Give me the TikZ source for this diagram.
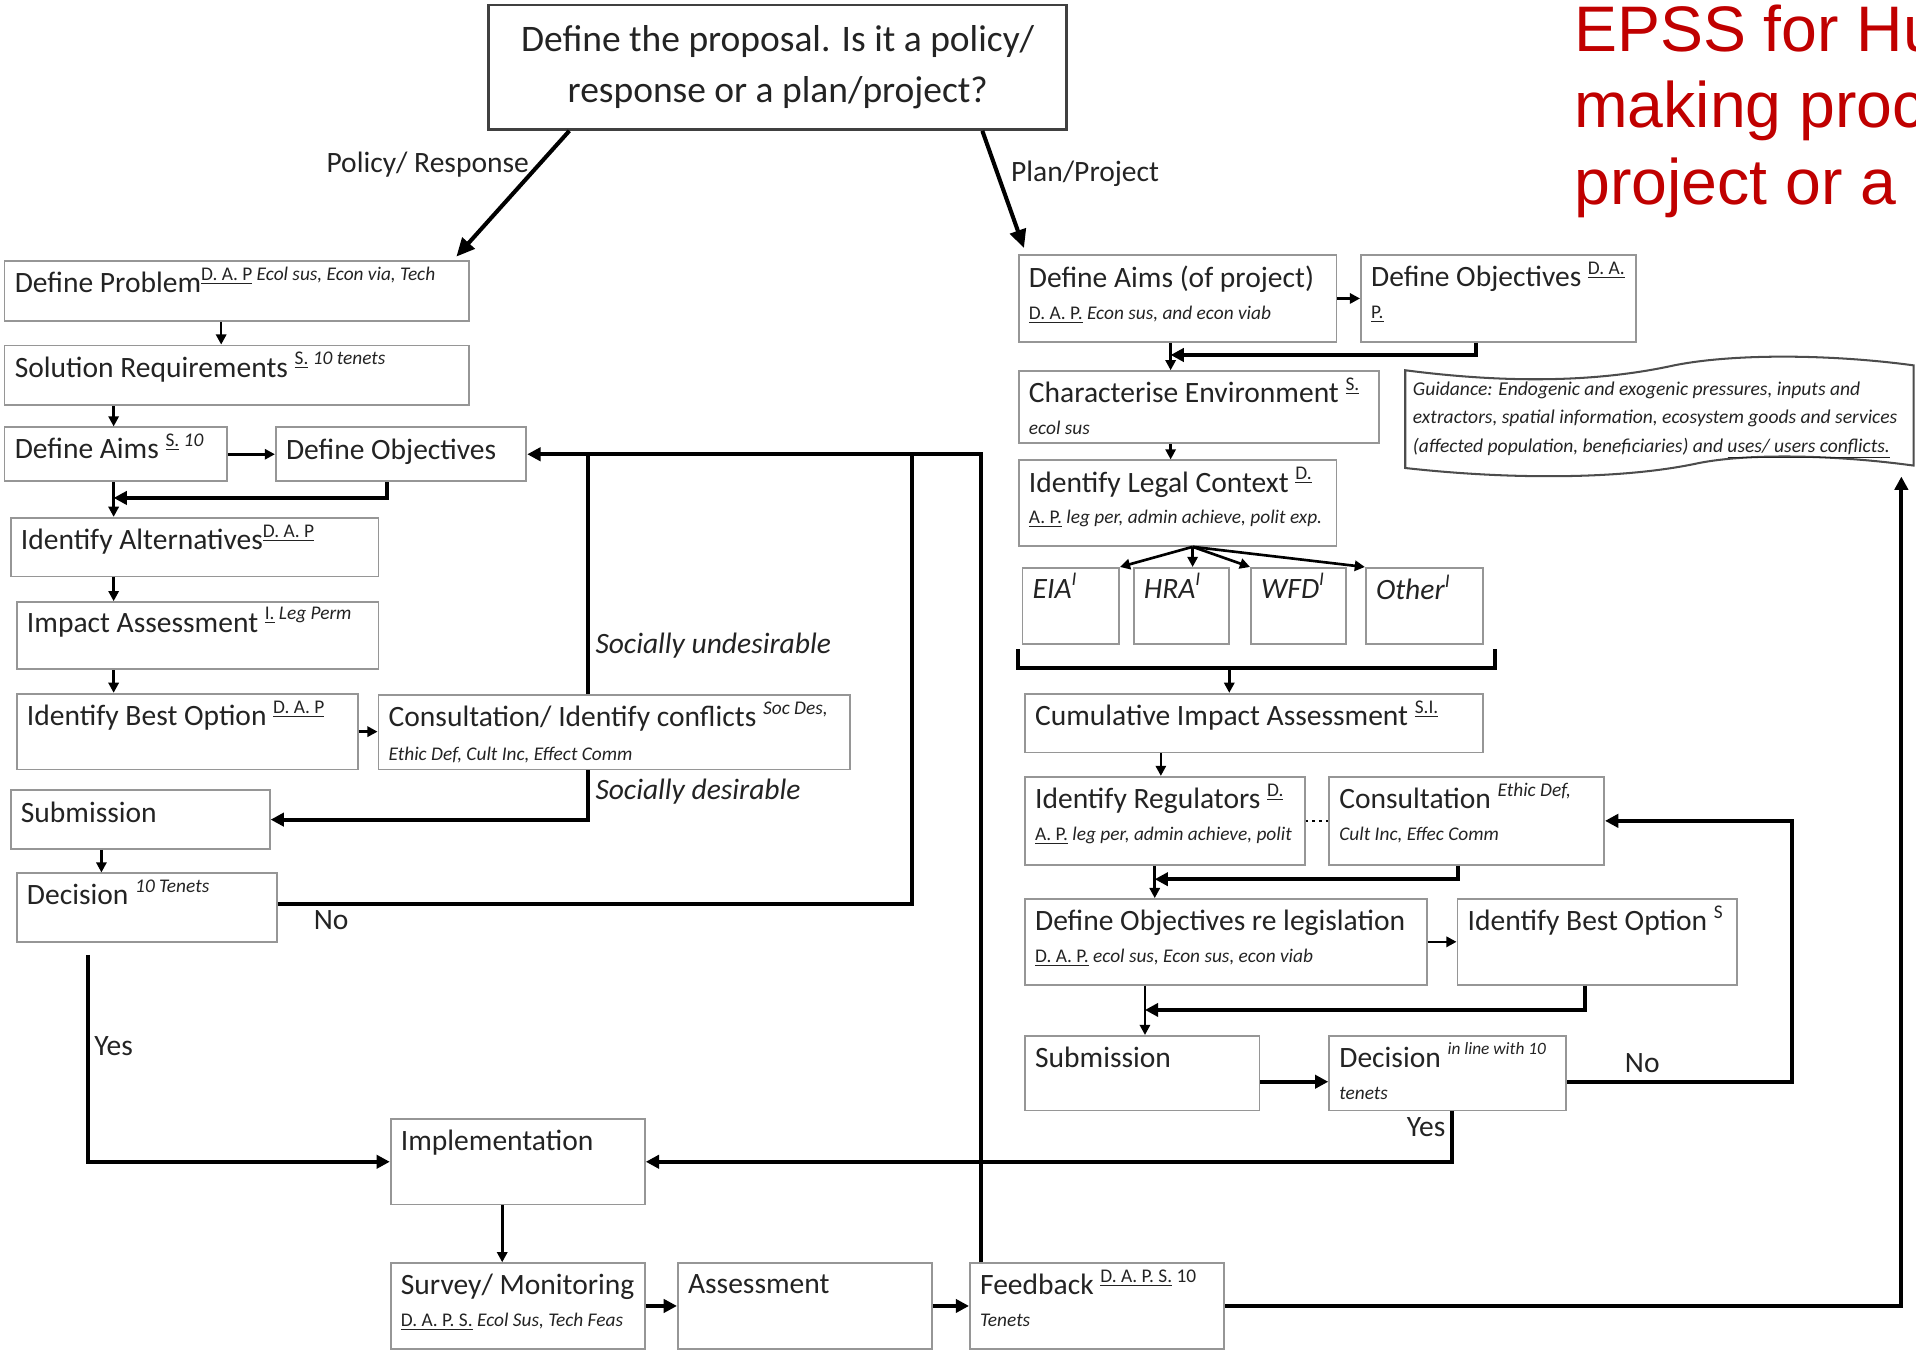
\documentclass[tikz,border=0pt]{standalone}
\usepackage{fontspec}
\setmainfont{Carlito}
\newfontfamily\headfont{Liberation Sans}
\usetikzlibrary{arrows.meta}

\definecolor{boxline}{RGB}{150,150,150}
\definecolor{ink}{RGB}{35,35,35}
\definecolor{headred}{RGB}{192,0,0}

\newcommand\mainf{\fontsize{14.5}{15.5}\selectfont}
\newcommand\smf{\fontsize{9.5}{11}\selectfont}
\newcommand\sps[1]{\raisebox{0.42em}[0pt][0pt]{\smf #1}}
\newcommand\spsn[1]{\raisebox{0.45em}[0pt][0pt]{\fontsize{8.5}{10}\selectfont #1}}
\newcommand\uln[1]{\underline{#1}}
\newcommand\subl[1]{\mbox{\smf #1}}

% box given by its corners (x1,y1)-(x2,y2), text set from the top left
\newcommand\flowbox[6]{%
  \pgfmathsetlengthmacro\fbw{(#4-#2)*0.6pt-10pt}%
  \pgfmathsetlengthmacro\fbh{(#5-#3)*0.6pt-11pt}%
  \node[box,anchor=north west] (#1) at (#2,#3)
    {\parbox[t][\fbh][t]{\fbw}{\raggedright #6}};}

\tikzset{
  box/.style={draw=boxline, line width=0.9pt, inner xsep=5pt, inner ysep=5.5pt,
              font=\mainf, text=ink},
  topbox/.style={draw=black!75, line width=1.3pt, inner sep=0pt, align=center,
              font=\fontsize{18.4}{24.6}\selectfont, text=ink},
  lbl/.style={inner sep=0pt, font=\mainf, text=ink},
  head/.style={anchor=base west, inner sep=0pt, text=headred,
              font=\headfont\fontsize{31.6}{37}\selectfont},
  sarr/.style={line width=1.3pt, -{Triangle[length=5pt,width=5pt]}},
  arr/.style={line width=2pt, -{Triangle[length=6.5pt,width=6.5pt]}},
  bigarr/.style={line width=2pt, -{Triangle[length=9pt,width=8pt]}},
  link/.style={line width=2pt},
  notesty/.style={draw=black!70, line width=1pt}
}

\begin{document}
\begin{tikzpicture}[x=0.6pt,y=-0.6pt]
\useasboundingbox (0,0) rectangle (1568,1105);
\clip (0,0) rectangle (1568,1105);

% heading, running off the right edge
\node[head] (ttla) at (1288,42) {EPSS for Human};
\node[head] (ttlb) at (1288,104.5) {making process};
\node[head] (ttlc) at (1288,167) {project or a plan};

% start
\node[topbox, minimum width=283.8pt, minimum height=61.2pt] (top) at (636.5,55)
  {Define the proposal. Is it a policy/\\response or a plan/project?};

% policy / response branch
\flowbox{dp}{3}{213}{383}{262}{Define Problem\sps{\uln{D. A. P} \textit{Ecol sus, Econ via, Tech}}}
\flowbox{sr}{3}{282}{383}{331}{Solution Requirements \sps{\uln{S.} \textit{10 tenets}}}
\flowbox{la}{3}{349}{185}{393}{Define Aims \sps{\uln{S.} \textit{10}}}
\flowbox{lo}{225}{349}{430}{393}{Define Objectives}
\flowbox{ia}{8}{423}{309}{471}{Identify Alternatives\sps{\uln{D. A. P}}}
\flowbox{im}{13}{492}{309}{547}{Impact Assessment \sps{\uln{I.} \textit{Leg Perm}}}
\flowbox{ib}{13}{567}{292}{629}{Identify Best Option \sps{\uln{D. A. P}}}
\flowbox{lc}{309}{568}{695}{629}{Consultation/ Identify conflicts \sps{\textit{Soc Des,}}\\[1pt]\subl{\textit{Ethic Def, Cult Inc, Effect Comm}}}
\flowbox{ls}{8}{646}{220}{694}{Submission}
\flowbox{ld}{13}{714}{226}{770}{Decision \sps{\textit{10 Tenets}}}

% plan / project branch
\flowbox{ra}{833}{208}{1093}{279}{Define Aims (of project)\\\subl{\uln{D. A. P.} \textit{Econ sus, and econ viab}}}
\flowbox{ro}{1113}{208}{1338}{279}{Define Objectives \sps{\uln{D. A.}}\\\subl{\uln{P.}}}
\flowbox{ce}{833}{303}{1128}{362}{Characterise Environment \sps{\uln{S.}}\\\subl{\textit{ecol sus}}}
\flowbox{lg}{833}{376}{1093}{446}{Identify Legal Context \sps{\uln{D.}}\\\subl{\uln{A. P.} \textit{leg per, admin achieve, polit exp.}}}
\flowbox{eia}{836}{464}{915}{526}{\textit{EIA}\sps{\textit{I}}}
\flowbox{hra}{927}{464}{1005}{526}{\textit{HRA}\sps{\textit{I}}}
\flowbox{wfd}{1023}{464}{1101}{526}{\textit{WFD}\sps{\textit{I}}}
\flowbox{oth}{1117}{464}{1213}{526}{\textit{Other}\sps{\textit{I}}}
\flowbox{cia}{838}{567}{1213}{615}{Cumulative Impact Assessment \sps{\uln{S.I.}}}
\flowbox{rg}{838}{635}{1067}{707}{Identify Regulators \sps{\uln{D.}}\\\subl{\uln{A. P.} \textit{leg per, admin achieve, polit}}}
\flowbox{rc}{1087}{635}{1312}{707}{Consultation \sps{\textit{Ethic Def,}}\\\subl{\textit{Cult Inc, Effec Comm}}}
\flowbox{dl}{838}{735}{1167}{805}{Define Objectives re legislation\\\subl{\uln{D. A. P.} \textit{ecol sus, Econ sus, econ viab}}}
\flowbox{rb}{1192}{735}{1421}{805}{Identify Best Option \sps{S}}
\flowbox{rs}{838}{847}{1030}{908}{Submission}
\flowbox{rd}{1087}{847}{1281}{908}{\mbox{Decision \spsn{\textit{in line with 10}}}\\\subl{\textit{tenets}}}

% shared tail
\flowbox{impl}{319}{915}{527}{985}{Implementation}
\flowbox{sm}{319}{1033}{527}{1103}{\mbox{Survey/ Monitoring}\\\subl{\uln{D. A. P. S.} \textit{Ecol Sus, Tech Feas}}}
\flowbox{as}{554}{1033}{762}{1103}{Assessment}
\flowbox{fb}{793}{1033}{1001}{1103}{Feedback \sps{\uln{D. A. P. S.} 10}\\\subl{\textit{Tenets}}}

% guidance note (wave shape)
\draw[notesty] (1150,303) .. controls (1250,316) and (1320,310) .. (1370,299)
  .. controls (1420,289) and (1500,290) .. (1566,299) -- (1566,381)
  .. controls (1500,372) and (1430,371) .. (1390,379)
  .. controls (1330,392) and (1240,393) .. (1150,383) -- cycle;
\node[anchor=north west, inner sep=0pt, align=left, text=ink,
      font=\fontsize{9.6}{14.1}\selectfont\itshape] (gd) at (1156,312)
  {Guidance: Endogenic and exogenic pressures, inputs and\\
   extractors, spatial information, ecosystem goods and services\\
   (affected population, beneficiaries) and \underline{uses/ users conflicts.}};
\coordinate (gdtip) at (1556,390);

% branch labels
\node[lbl] (pr) at (350,135) {Policy/ Response};
\node[lbl] (pp) at (888,142) {Plan/Project};
\draw[bigarr] ([shift={(67,0)}]top.south west) -- ([shift={(-11,-3)}]dp.north east);
\draw[bigarr] ([shift={(405,0)}]top.south west) -- ([shift={(5,-5)}]ra.north west);

% left column connectors
\draw[sarr] ([shift={(178,0)}]dp.south west) -- ([shift={(178,0)}]sr.north west);
\draw[sarr] ([shift={(90,0)}]sr.south west) -- ([shift={(90,0)}]la.north west);
\draw[sarr] (la.east) -- (lo.west);
\draw[sarr] ([shift={(90,0)}]la.south west) -- ([shift={(85,0)}]ia.north west);
\draw[arr] ([shift={(92,0)}]lo.south west) |- ([shift={(90,13)}]la.south west);
\draw[sarr] ([shift={(85,0)}]ia.south west) -- ([shift={(80,0)}]im.north west);
\draw[sarr] ([shift={(80,0)}]im.south west) -- ([shift={(80,0)}]ib.north west);
\draw[sarr] (ib.east) -- (ib.east -| lc.west);
\coordinate (lcn) at ([shift={(172,0)}]lc.north west);
\coordinate (lcs) at ([shift={(172,0)}]lc.south west);
\draw[link] (lcn) -- (lcn |- lo.east);
\draw[arr] (lcs) |- (ls.east);
\draw[sarr] ([shift={(75,0)}]ls.south west) -- ([shift={(70,0)}]ld.north west);
\coordinate (noj) at ([shift={(315,0)}]lo.east);
\draw[link] ([shift={(0,-3)}]ld.east) -| (noj);
\draw[arr] ([shift={(10,0)}]fb.north west) |- (lo.east);
\coordinate (ldy) at ([shift={(59,10)}]ld.south west);
\draw[arr] (ldy) |- (impl.west);

\node[lbl, anchor=west] (su) at (487,528) {\textit{Socially undesirable}};
\node[lbl, anchor=west] (sd) at (487,648) {\textit{Socially desirable}};
\node[lbl] (noa) at (271,753) {No};
\node[lbl] (yesa) at (93,856) {Yes};

% right column connectors
\draw[sarr] (ra.east) -- (ra.east -| ro.west);
\draw[sarr] ([shift={(125,0)}]ra.south west) -- ([shift={(125,0)}]ce.north west);
\draw[arr] ([shift={(95,0)}]ro.south west) |- ([shift={(125,10)}]ra.south west);
\draw[sarr] ([shift={(125,0)}]ce.south west) -- ([shift={(125,0)}]lg.north west);
\coordinate (lgs) at ([shift={(143,0)}]lg.south west);
\draw[sarr] (lgs) -- (eia.north east);
\draw[sarr] (lgs) -- ([shift={(49,0)}]hra.north west);
\draw[sarr] (lgs) -- (wfd.north west);
\draw[sarr] (lgs) -- (oth.north west);
\draw[link] ([shift={(-3,4)}]eia.south west) -- ++(0,15) -| ([shift={(9,4)}]oth.south east);
\coordinate (brk) at ([shift={(170,19)}]eia.south west);
\draw[sarr] (brk) -- (brk |- cia.north);
\draw[sarr] ([shift={(112,0)}]cia.south west) -- ([shift={(112,0)}]rg.north west);
\draw[dotted, line width=1.3pt] (rg.east) -- (rc.west);
\draw[sarr] ([shift={(107,0)}]rg.south west) -- ([shift={(107,0)}]dl.north west);
\draw[arr] ([shift={(106,0)}]rc.south west) |- ([shift={(107,11)}]rg.south west);
\draw[sarr] (dl.east) -- (dl.east -| rb.west);
\draw[sarr] ([shift={(99,0)}]dl.south west) -- ([shift={(99,0)}]rs.north west);
\draw[arr] ([shift={(105,0)}]rb.south west) |- ([shift={(99,20)}]dl.south west);
\draw[arr] ([shift={(0,7)}]rs.east) -- ([shift={(0,7)}]rd.west);
\draw[arr] ([shift={(0,7)}]rd.east) -- ++(184,0) |- (rc.east);
\coordinate (rdy) at ([shift={(101,0)}]rd.south west);
\draw[arr] (rdy) |- (impl.east);

\node[lbl] (nob) at (1344,870) {No};
\node[lbl] (yesb) at (1167,922) {Yes};

% tail connectors
\draw[sarr] ([shift={(92,0)}]impl.south west) -- ([shift={(92,0)}]sm.north west);
\draw[arr] (sm.east) -- (as.west);
\draw[arr] (as.east) -- (fb.west);
\draw[arr] (fb.east) -| (gdtip);
\end{tikzpicture}
\end{document}
